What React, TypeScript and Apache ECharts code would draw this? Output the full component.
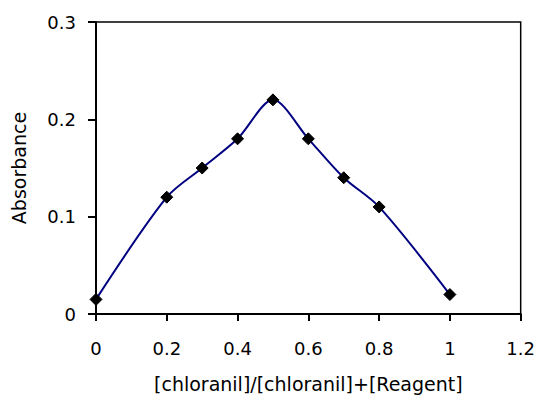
import React, { useEffect, useRef } from "react";
import * as echarts from "echarts";

const moleFraction = [0, 0.2, 0.3, 0.4, 0.5, 0.6, 0.7, 0.8, 1.0];
const absorbance = [0.015, 0.12, 0.15, 0.18, 0.22, 0.18, 0.14, 0.11, 0.02];
const xTitle = "[chloranil]/[chloranil]+[Reagent]";
const yTitle = "Absorbance";

export default function App() {
  const ref = useRef<HTMLDivElement>(null);
  useEffect(() => {
    if (!ref.current) return;
    const chart = echarts.init(ref.current, undefined, { renderer: "svg" });
    const font = "DejaVu Sans";
    chart.setOption({
      animation: false,
      backgroundColor: "#fff",
      grid: {
        left: 96,
        top: 22,
        right: 17,
        bottom: 82,
        show: true,
        borderColor: "#000",
        borderWidth: 1.5,
      },
      xAxis: {
        type: "value",
        min: 0,
        max: 1.2,
        interval: 0.2,
        name: xTitle,
        nameLocation: "middle",
        nameGap: 60,
        nameTextStyle: { fontFamily: font, fontSize: 19, color: "#000" },
        axisLine: { show: true, onZero: false, lineStyle: { color: "#000", width: 2 } },
        axisTick: { show: true, inside: false, length: 7, lineStyle: { color: "#000", width: 2 } },
        axisLabel: { fontFamily: font, fontSize: 18, color: "#000", margin: 25 },
        splitLine: { show: false },
      },
      yAxis: {
        type: "value",
        min: 0,
        max: 0.3,
        interval: 0.1,
        name: yTitle,
        nameLocation: "middle",
        nameGap: 68,
        nameTextStyle: { fontFamily: font, fontSize: 19, color: "#000" },
        axisLine: { show: true, onZero: false, lineStyle: { color: "#000", width: 2 } },
        axisTick: { show: true, inside: false, length: 8, lineStyle: { color: "#000", width: 2 } },
        axisLabel: { fontFamily: font, fontSize: 18, color: "#000", margin: 20 },
        splitLine: { show: false },
      },
      series: [
        {
          type: "line",
          data: moleFraction.map((x, i) => [x, absorbance[i]]),
          smooth: 0.3,
          symbol: "diamond",
          symbolSize: 12,
          lineStyle: { color: "#000080", width: 2 },
          itemStyle: { color: "#000", borderColor: "#000" },
        },
      ],
    });
    return () => chart.dispose();
  }, []);
  return (
    <div
      ref={ref}
      style={{ position: "fixed", left: 0, top: 0, width: 538, height: 398, background: "#fff" }}
    />
  );
}
